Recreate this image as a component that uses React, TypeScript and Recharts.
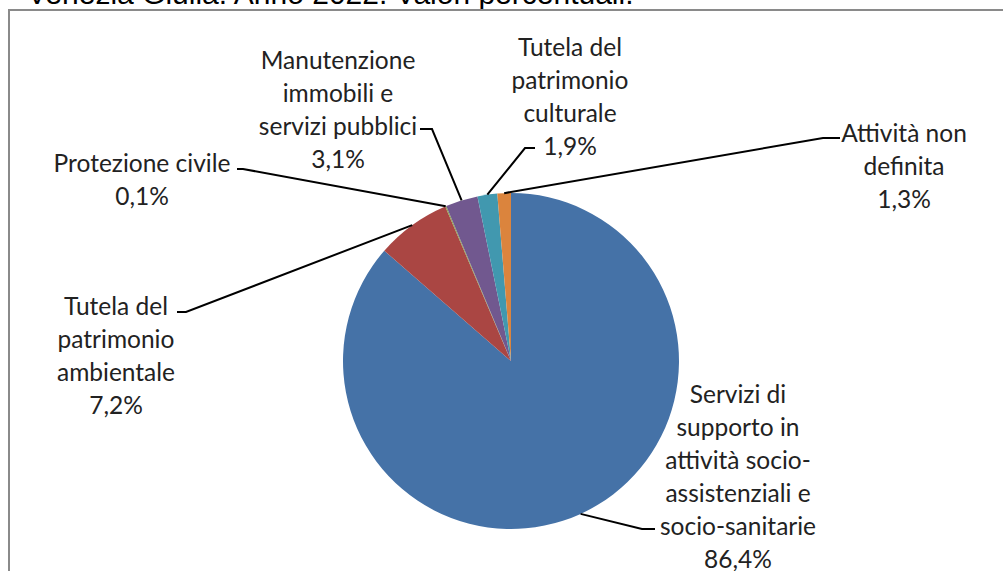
import React from 'react'
import { PieChart, Pie, Cell } from 'recharts'

const categories = [
  'Servizi di supporto in attività socio-assistenziali e socio-sanitarie',
  'Tutela del patrimonio ambientale',
  'Protezione civile',
  'Manutenzione immobili e servizi pubblici',
  'Tutela del patrimonio culturale',
  'Attività non definita',
]
const values = [86.4, 7.2, 0.1, 3.1, 1.9, 1.3]
const labelLines = [
  ['Servizi di', 'supporto in', 'attività socio-', 'assistenziali e', 'socio-sanitarie'],
  ['Tutela del', 'patrimonio', 'ambientale'],
  ['Protezione civile'],
  ['Manutenzione', 'immobili e', 'servizi pubblici'],
  ['Tutela del', 'patrimonio', 'culturale'],
  ['Attività non', 'definita'],
]
const colors = ['#4572A7', '#AA4643', '#89A54E', '#71588F', '#4198AF', '#DB843D']

// label placement relative to the pie centre: elbow, end of leader, text centre x, first line y
const labelLayout = [
  { elbow: [131, 168], end: [144, 168], tx: 227, ty: 32 },
  { elbow: [-325, -49], end: [-334, -49], tx: -395, ty: -56 },
  { elbow: [-268, -192], end: [-274, -192], tx: -369, ty: -199 },
  { elbow: [-79, -232], end: [-91, -232], tx: -173, ty: -302 },
  { elbow: [14, -213], end: [24, -213], tx: 59, ty: -315 },
  { elbow: [312, -223], end: [329, -223], tx: 393, ty: -229 },
]

const RAD = Math.PI / 180
const LINE_H = 33
const fmt = (v: number) => v.toFixed(1).replace('.', ',') + '%'

const data = categories.map((name, i) => ({ name, value: values[i] }))

function renderLabel(props: any) {
  const { cx, cy, midAngle, outerRadius, index } = props
  const lay = labelLayout[index]
  const sx = cx + outerRadius * Math.cos(-midAngle * RAD)
  const sy = cy + outerRadius * Math.sin(-midAngle * RAD)
  const lines = [...labelLines[index], fmt(values[index])]
  return (
    <g key={'lbl' + index}>
      <polyline
        points={`${sx},${sy} ${cx + lay.elbow[0]},${cy + lay.elbow[1]} ${cx + lay.end[0]},${cy + lay.end[1]}`}
        fill="none"
        stroke="#000"
        strokeWidth={2}
      />
      <text textAnchor="middle" fill="#222" fontSize={24.5} fontFamily="Lato, sans-serif">
        {lines.map((l, j) => (
          <tspan key={j} x={cx + lay.tx} y={cy + lay.ty + j * LINE_H} dominantBaseline="central">
            {l}
          </tspan>
        ))}
      </text>
    </g>
  )
}

export default function App() {
  return (
    <div style={{ position: 'absolute', left: 0, top: 0, width: 1003, height: 571, overflow: 'hidden', background: '#fff' }}>
      <div
        style={{
          position: 'absolute', left: 27, top: -24, fontFamily: 'Liberation Sans, Arial, sans-serif',
          fontSize: 30, color: '#000', whiteSpace: 'nowrap', lineHeight: '36px',
        }}
      >
        Venezia Giulia. Anno 2022. Valori percentuali.
      </div>
      <div
        style={{
          position: 'absolute', left: 8, top: 9, width: 1100, height: 700,
          border: '2px solid #8a8a8a', boxSizing: 'border-box',
        }}
      />
      <div style={{ position: 'absolute', left: 0, top: 0 }}>
        <PieChart width={1003} height={571} margin={{ top: 0, right: 0, bottom: 0, left: 0 }}>
          <Pie
            data={data}
            dataKey="value"
            nameKey="name"
            cx={511}
            cy={361}
            outerRadius={168}
            startAngle={90}
            endAngle={-270}
            stroke="none"
            label={renderLabel}
            labelLine={false}
            isAnimationActive={false}
          >
            {data.map((d, i) => (
              <Cell key={d.name} fill={colors[i]} />
            ))}
          </Pie>
        </PieChart>
      </div>
    </div>
  )
}
